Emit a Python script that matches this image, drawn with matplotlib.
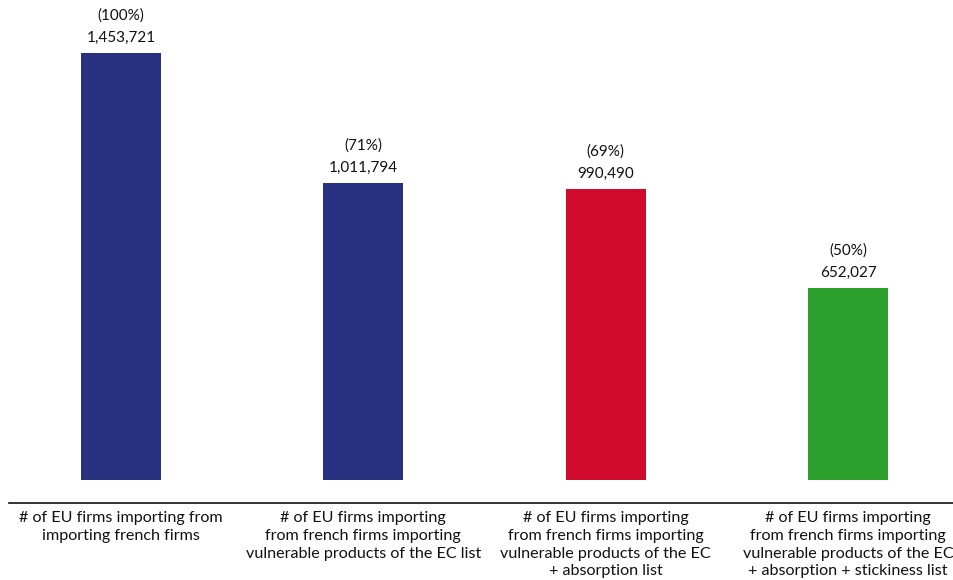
import matplotlib.pyplot as plt

plt.rcParams['font.family'] = ['Lato', 'DejaVu Sans']

categories = [
    "# of EU firms importing from\nimporting french firms",
    "# of EU firms importing\nfrom french firms importing\nvulnerable products of the EC list",
    "# of EU firms importing\nfrom french firms importing\nvulnerable products of the EC\n+ absorption list",
    "# of EU firms importing\nfrom french firms importing\nvulnerable products of the EC\n+ absorption + stickiness list",
]
counts = [1453721, 1011794, 990490, 652027]
shares = [100, 71, 69, 50]
colors = ['#283080', '#283080', '#cf0a2d', '#2ca02c']

fig = plt.figure(figsize=(9.54, 5.80), dpi=100)
# axes runs slightly past the right edge, so the last label gets cut
ax = fig.add_axes([9 / 954, 77 / 580, 951 / 954, 503 / 580])

x = range(len(counts))
ax.bar(x, counts, width=0.33, color=colors)

for xi, n, s in zip(x, counts, shares):
    ax.annotate(f"{n:,}", (xi, n), xytext=(0, 6), textcoords='offset points',
                ha='center', va='bottom', fontsize=11, color='#111111')
    ax.annotate(f"({s}%)", (xi, n), xytext=(0, 22), textcoords='offset points',
                ha='center', va='bottom', fontsize=11, color='#111111')

ax.set_xlim(-0.462, 3.462)
ax.set_ylim(-78300, 1634000)
ax.set_xticks(list(x))
ax.set_xticklabels(categories, fontsize=11.6, linespacing=1.33, color='#111111')
ax.tick_params(axis='x', length=0, pad=6)
ax.set_yticks([])

for side in ['top', 'right', 'left']:
    ax.spines[side].set_visible(False)
ax.spines['bottom'].set_color('#111111')
ax.spines['bottom'].set_linewidth(1.2)

fig.savefig('out.png', dpi=100)
